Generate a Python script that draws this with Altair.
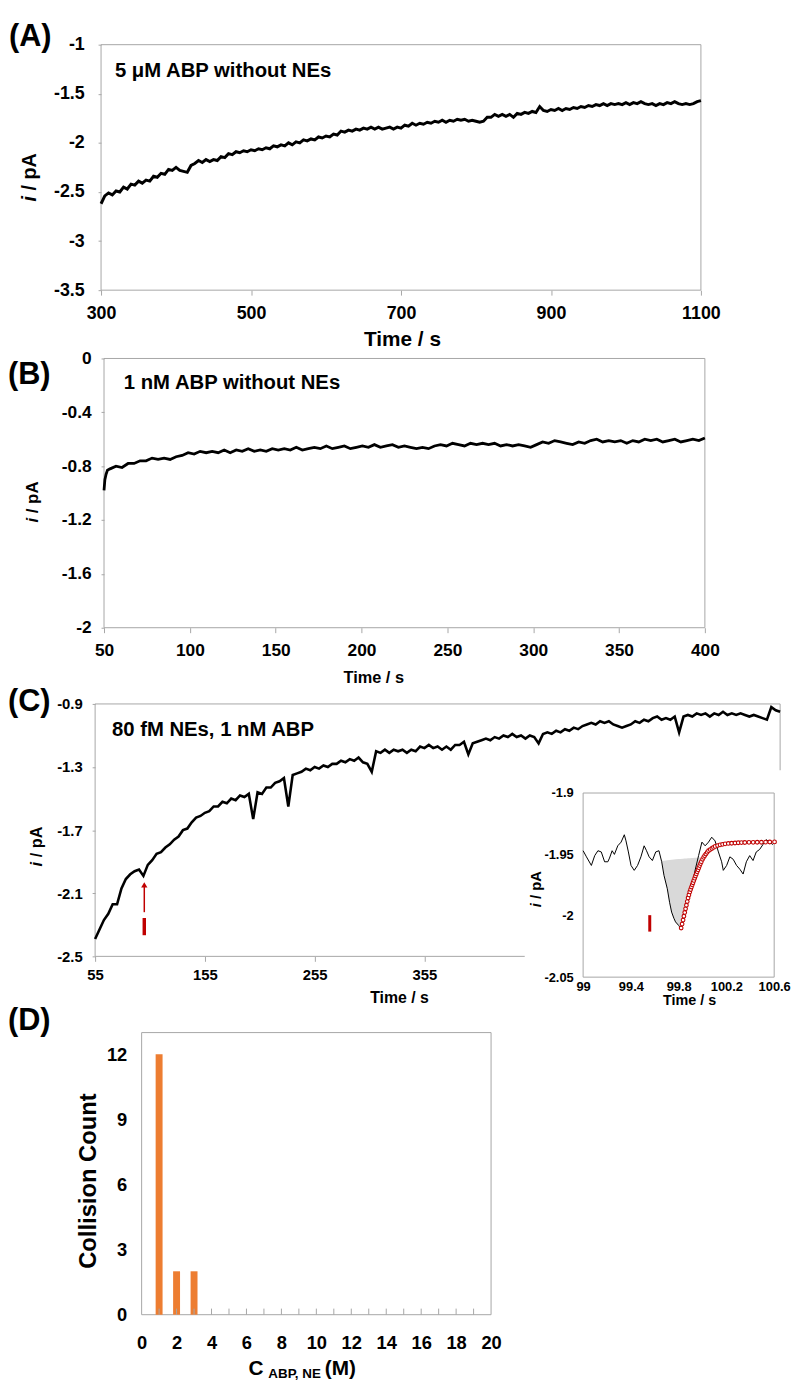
import altair as alt
import pandas as pd

FONT = "Liberation Sans"
FRAME = "#a6a6a6"
RED = "#C00000"
ORANGE = "#ED7D31"

# ---------------- Panel A: 5 uM ABP without NEs ----------------
A_START, A_STEP = 300, 5
A_CURRENT = [
    -2.62, -2.54, -2.51, -2.53, -2.49, -2.50, -2.45, -2.47, -2.42, -2.43, -2.39, -2.41, -2.38, -2.39, -2.34, -2.35, -2.31, -2.32, -2.27, -2.28,
    -2.25, -2.28, -2.29, -2.30, -2.23, -2.21, -2.18, -2.20, -2.17, -2.19, -2.17, -2.18, -2.14, -2.15, -2.11, -2.12, -2.09, -2.10, -2.08, -2.09,
    -2.07, -2.08, -2.06, -2.07, -2.05, -2.06, -2.03, -2.04, -2.02, -2.03, -2.00, -2.02, -1.99, -2.00, -1.97, -1.98, -1.96, -1.97, -1.94, -1.95,
    -1.93, -1.94, -1.91, -1.92, -1.88, -1.89, -1.87, -1.88, -1.86, -1.87, -1.85, -1.86, -1.84, -1.86, -1.84, -1.86, -1.85, -1.84, -1.86, -1.84,
    -1.85, -1.82, -1.83, -1.80, -1.82, -1.80, -1.81, -1.79, -1.80, -1.78, -1.79, -1.77, -1.79, -1.77, -1.78, -1.76, -1.77, -1.76, -1.78, -1.77,
    -1.78, -1.79, -1.78, -1.74, -1.74, -1.71, -1.73, -1.71, -1.73, -1.71, -1.74, -1.70, -1.71, -1.69, -1.70, -1.68, -1.69, -1.63, -1.67, -1.68,
    -1.66, -1.67, -1.65, -1.67, -1.65, -1.66, -1.64, -1.65, -1.63, -1.64, -1.62, -1.63, -1.61, -1.62, -1.60, -1.62, -1.60, -1.61, -1.60, -1.61,
    -1.59, -1.61, -1.59, -1.60, -1.58, -1.60, -1.61, -1.60, -1.62, -1.60, -1.61, -1.59, -1.60, -1.58, -1.60, -1.61, -1.60, -1.61, -1.60, -1.58,
    -1.57,
]
A_XDOM = [300, 1100]
A_YDOM = [-3.5, -1]
A_XTICKS = [300, 500, 700, 900, 1100]
A_YTICKS = [-3.5, -3, -2.5, -2, -1.5, -1]

# ---------------- Panel B: 1 nM ABP without NEs ----------------
B_HEAD_T = [50.0, 50.5, 51.2, 52.0]
B_HEAD_I = [-0.98, -0.90, -0.86, -0.83]
B_START, B_STEP = 53.5, 3.5
B_CURRENT = [
    -0.82, -0.80, -0.81, -0.78, -0.78, -0.76, -0.76, -0.74, -0.75, -0.74,
    -0.75, -0.73, -0.72, -0.70, -0.71, -0.69, -0.70, -0.69, -0.70, -0.68,
    -0.70, -0.68, -0.69, -0.67, -0.69, -0.68, -0.69, -0.67, -0.68, -0.67,
    -0.68, -0.66, -0.68, -0.67, -0.66, -0.67, -0.65, -0.67, -0.66, -0.65,
    -0.67, -0.66, -0.65, -0.66, -0.64, -0.66, -0.65, -0.64, -0.66, -0.65,
    -0.66, -0.67, -0.66, -0.67, -0.65, -0.64, -0.65, -0.63, -0.64, -0.65,
    -0.63, -0.64, -0.63, -0.64, -0.63, -0.65, -0.64, -0.65, -0.64, -0.65,
    -0.66, -0.64, -0.62, -0.63, -0.61, -0.62, -0.63, -0.64, -0.62, -0.63,
    -0.61, -0.60, -0.62, -0.61, -0.62, -0.61, -0.63, -0.61, -0.62, -0.60,
    -0.61, -0.60, -0.62, -0.61, -0.60, -0.62, -0.61, -0.60, -0.61, -0.59,
]
B_XDOM = [50, 400]
B_YDOM = [-2, 0]
B_XTICKS = [50, 100, 150, 200, 250, 300, 350, 400]
B_YTICKS = [-2, -1.6, -1.2, -0.8, -0.4, 0]

# ---------------- Panel C: 80 fM NEs, 1 nM ABP ----------------
C_START, C_STEP = 55, 4
C_CURRENT = [
    -2.39, -2.33, -2.27, -2.23, -2.17, -2.17, -2.07, -2.01, -1.98, -1.96,
    -1.95, -1.99, -1.92, -1.89, -1.85, -1.84, -1.81, -1.79, -1.76, -1.74,
    -1.70, -1.69, -1.65, -1.62, -1.61, -1.59, -1.58, -1.55, -1.55, -1.52,
    -1.53, -1.50, -1.51, -1.48, -1.49, -1.47, -1.63, -1.46, -1.47, -1.43,
    -1.43, -1.40, -1.39, -1.37, -1.55, -1.35, -1.34, -1.33, -1.31, -1.32,
    -1.30, -1.31, -1.29, -1.30, -1.28, -1.28, -1.26, -1.27, -1.25, -1.26,
    -1.24, -1.27, -1.28, -1.33, -1.20, -1.21, -1.19, -1.21, -1.19, -1.20,
    -1.19, -1.21, -1.19, -1.20, -1.17, -1.18, -1.16, -1.18, -1.17, -1.19,
    -1.17, -1.19, -1.16, -1.16, -1.14, -1.22, -1.15, -1.14, -1.13, -1.12,
    -1.13, -1.11, -1.12, -1.10, -1.11, -1.09, -1.11, -1.10, -1.12, -1.10,
    -1.11, -1.15, -1.09, -1.08, -1.09, -1.07, -1.08, -1.06, -1.07, -1.05,
    -1.06, -1.04, -1.03, -1.02, -1.03, -1.01, -1.02, -1.01, -1.03, -1.04,
    -1.05, -1.04, -1.03, -1.01, -1.02, -1.00, -1.01, -0.99, -0.98, -1.00,
    -0.99, -1.00, -0.98, -1.08, -0.98, -0.97, -0.98, -0.96, -0.97, -0.96,
    -0.98, -0.96, -0.97, -0.95, -0.97, -0.96, -0.97, -0.96, -0.97, -0.98,
    -0.97, -0.98, -0.99, -1.00, -0.92, -0.94, -0.95,
]
C_XDOM = [55, 679]
C_YDOM = [-2.5, -0.9]
C_XTICKS = [55, 155, 255, 355]
C_YTICKS = [-2.5, -2.1, -1.7, -1.3, -0.9]
ARROW_T = [99.8]
ARROW_HEAD_I = [-2.047]
ARROW_SHAFT_I = [-2.05, -2.22]
ARROW_DASH_I = [-2.257, -2.366]

# ---------------- Inset of C ----------------
INSET_T = [99.000, 99.028, 99.069, 99.097, 99.124, 99.152, 99.180, 99.207, 99.221, 99.243,
           99.262, 99.290, 99.318, 99.345, 99.359, 99.379, 99.401, 99.428, 99.456, 99.484,
           99.511, 99.531, 99.553, 99.580, 99.608, 99.635, 99.658, 99.677, 99.705, 99.724,
           99.741, 99.760, 99.774, 99.801, 99.815, 99.829, 99.857, 99.885, 99.912, 99.940,
           99.967, 99.995, 100.022, 100.050, 100.077, 100.105, 100.133, 100.160, 100.174, 100.202,
           100.229, 100.257, 100.285, 100.312, 100.340, 100.367, 100.395, 100.423, 100.450, 100.478,
           100.506, 100.533, 100.561, 100.589]
INSET_I = [-1.947, -1.952, -1.959, -1.951, -1.947, -1.948, -1.956, -1.956, -1.953, -1.947,
           -1.950, -1.943, -1.940, -1.934, -1.939, -1.948, -1.959, -1.963, -1.959, -1.952,
           -1.943, -1.947, -1.952, -1.955, -1.948, -1.947, -1.956, -1.967, -1.978, -1.989,
           -1.997, -2.002, -2.005, -2.008, -2.010, -2.0075, -1.997, -1.986, -1.975, -1.962,
           -1.951, -1.940, -1.943, -1.940, -1.936, -1.939, -1.948, -1.956, -1.963, -1.959,
           -1.952, -1.954, -1.959, -1.962, -1.966, -1.956, -1.951, -1.955, -1.948, -1.946,
           -1.942, -1.938, -1.940, -1.942]
FIT_T = [99.821, 99.829, 99.837, 99.844, 99.851, 99.858, 99.865, 99.872, 99.879, 99.886,
         99.893, 99.900, 99.907, 99.914, 99.920, 99.927, 99.934, 99.941, 99.948, 99.955,
         99.962, 99.969, 99.976, 99.983, 99.990, 100.000, 100.009, 100.018, 100.028, 100.039,
         100.050, 100.064, 100.078, 100.092, 100.106, 100.126, 100.147, 100.168, 100.189, 100.216,
         100.244, 100.272, 100.299, 100.326, 100.354, 100.389, 100.424, 100.458, 100.493, 100.528,
         100.563, 100.603]
FIT_I = [-2.0100, -2.0068, -2.0035, -2.0004, -1.9973, -1.9943, -1.9914, -1.9884, -1.9855, -1.9830,
         -1.9806, -1.9786, -1.9766, -1.9748, -1.9731, -1.9712, -1.9694, -1.9676, -1.9659, -1.9642,
         -1.9626, -1.9608, -1.9591, -1.9575, -1.9559, -1.9540, -1.9524, -1.9510, -1.9497, -1.9483,
         -1.9470, -1.9461, -1.9452, -1.9443, -1.9435, -1.9428, -1.9422, -1.9418, -1.9414, -1.9411,
         -1.9409, -1.9407, -1.9405, -1.9404, -1.9403, -1.9402, -1.9402, -1.9401, -1.9401, -1.9400,
         -1.9399, -1.9398]
SHADE_T = [99.660, 99.677, 99.705, 99.724, 99.741, 99.760, 99.774, 99.801, 99.815, 99.837,
           99.851, 99.865, 99.879, 99.893, 99.907, 99.920, 99.934, 99.948, 99.962, 99.976,
           99.990, 100.009]
SHADE_LO = [-1.9555, -1.967, -1.978, -1.989, -1.997, -2.002, -2.005, -2.008, -2.010, -2.0035,
            -1.9973, -1.9914, -1.9855, -1.9806, -1.9766, -1.9731, -1.9694, -1.9659, -1.9626, -1.9591,
            -1.9559, -1.9524]
SHADE_HI = [-1.9552, -1.9551, -1.9548, -1.9545, -1.9543, -1.9541, -1.9540, -1.9538, -1.9537, -1.9535,
            -1.9534, -1.9533, -1.9532, -1.9531, -1.9530, -1.9529, -1.9528, -1.9527, -1.9527, -1.9526,
            -1.9525, -1.9524]
MARK_T = [99.558]
MARK_I = [-1.9995, -2.0129]
INSET_XDOM = [99, 100.6]
INSET_YDOM = [-2.05, -1.9]
INSET_XTICKS = [99, 99.4, 99.8, 100.2, 100.6]
INSET_YTICKS = [-2.05, -2, -1.95, -1.9]

# ---------------- Panel D: collision count histogram ----------------
D_C = [1, 2, 3]
D_N = [12, 2, 2]
D_MINOR = list(range(1, 20))
D_XDOM = [0, 20]
D_YDOM = [0, 13]
D_XTICKS = list(range(0, 21, 2))
D_YTICKS = [0, 3, 6, 9, 12]

# ---------------- helpers ----------------
ONE = pd.DataFrame({"k": [0]})
EXPR = "toString(datum.value)"


def label(text, x, y, size, align="left", baseline="alphabetic", angle=0, style="normal", color="black"):
    kw = dict(text=text, fontSize=size, font=FONT, fontWeight="bold", fontStyle=style,
              align=align, baseline=baseline, color=color)
    if angle:
        kw["angle"] = angle
    return alt.Chart(ONE).mark_text(**kw).encode(x=alt.value(x), y=alt.value(y))


def ytitle(xc, yc, size):
    total = 2.445 * size
    yb = yc + total / 2
    return [label("i", xc, yb, size, angle=270, baseline="middle", style="italic"),
            label("/ pA", xc, yb - 0.556 * size, size, angle=270, baseline="middle")]


def bound(x, y1, y2):
    return alt.Chart(ONE).mark_rule(strokeOpacity=0, strokeWidth=1).encode(
        x=alt.value(x), x2=alt.value(x), y=alt.value(y1), y2=alt.value(y2))


def axis(values, size, tick, pad, title=None, tsize=None, tx=None, ty=None, **extra):
    kw = dict(values=values, labelExpr=EXPR, labelFontSize=size, labelPadding=pad)
    if tick:
        kw.update(ticks=True, tickSize=tick)
    else:
        kw.update(ticks=False)
    if title:
        kw.update(title=title, titleFontSize=tsize, titleX=tx, titleY=ty,
                  titleBaseline="alphabetic", titleAlign="center", titleAngle=0)
    else:
        kw.update(title=None)
    kw.update(extra)
    return alt.Axis(**kw)


def frame_rect(xdom, ydom, X, Y, fill=None):
    df = pd.DataFrame({"x0": [xdom[0]], "x1": [xdom[1]], "y0": [ydom[0]], "y1": [ydom[1]]})
    kw = dict(stroke=FRAME, strokeWidth=1)
    if fill:
        kw["fill"] = fill
    else:
        kw["fillOpacity"] = 0
    return alt.Chart(df).mark_rect(**kw).encode(x=X("x0"), x2="x1", y=Y("y0"), y2="y1")


def make_xy(xdom, ydom, xrange, yrange, xaxis, yaxis):
    sx = alt.Scale(domain=xdom, range=xrange, nice=False, zero=False, padding=0)
    sy = alt.Scale(domain=ydom, range=yrange, nice=False, zero=False, padding=0)

    def X(f):
        return alt.X(f, type="quantitative", scale=sx, axis=xaxis)

    def Y(f):
        return alt.Y(f, type="quantitative", scale=sy, axis=yaxis)
    return X, Y


# All panels share the same view origin (x = 96 px on the page); each plot area
# is placed inside its view through the scale range.

# ---------------- Panel A ----------------
AX, AY = make_xy(A_XDOM, A_YDOM, [6, 612], [248, 0],
                 axis(A_XTICKS, 18, 5, 10, "Time / s", 21, 310, 56),
                 axis(A_YTICKS, 18, 3, 14, offset=-6))
dfA = pd.DataFrame({"t": [A_START + A_STEP * k for k in range(len(A_CURRENT))], "i": A_CURRENT})
panelA = alt.layer(
    frame_rect(A_XDOM, A_YDOM, AX, AY),
    alt.Chart(dfA).mark_line(color="black", strokeWidth=3).encode(x=AX("t"), y=AY("i")),
    label("5 μM ABP without NEs", 20, 33, 20.5),
    label("(A)", -87, 1, 31),
    *ytitle(-66, 134, 20),
    bound(-88, -30, 317),
).properties(width=612, height=248)

# ---------------- Panel B ----------------
BX, BY = make_xy(B_XDOM, B_YDOM, [9, 616], [272, 0],
                 axis(B_XTICKS, 17.5, 5, 9, "Time / s", 16.5, 281, 55),
                 axis(B_YTICKS, 17.5, 3, 10, offset=-9))
dfB = pd.DataFrame({
    "t": B_HEAD_T + [B_START + B_STEP * k for k in range(len(B_CURRENT))],
    "i": B_HEAD_I + B_CURRENT,
})
panelB = alt.layer(
    frame_rect(B_XDOM, B_YDOM, BX, BY),
    alt.Chart(dfB).mark_line(color="black", strokeWidth=2.8).encode(x=BX("t"), y=BY("i")),
    label("1 nM ABP without NEs", 29, 31, 20.5),
    label("(B)", -88, 26, 31),
    *ytitle(-63, 145, 17),
    bound(-88, -19, 346),
).properties(width=616, height=272)

# ---------------- Panel C (main) ----------------
CX, CY = make_xy(C_XDOM, C_YDOM, [0, 692], [255, 0],
                 axis(C_XTICKS, 15, 5, 6, "Time / s", 16, 307, 47),
                 axis(C_YTICKS, 15, 3, 10))
dfC = pd.DataFrame({"t": [C_START + C_STEP * k for k in range(len(C_CURRENT))], "i": C_CURRENT})
df_shaft = pd.DataFrame({"t": ARROW_T, "a": [ARROW_SHAFT_I[0]], "b": [ARROW_SHAFT_I[1]]})
df_dash = pd.DataFrame({"t": ARROW_T, "a": [ARROW_DASH_I[0]], "b": [ARROW_DASH_I[1]]})
df_head = pd.DataFrame({"t": ARROW_T, "i": ARROW_HEAD_I})
c_main = alt.layer(
    frame_rect(C_XDOM, C_YDOM, CX, CY),
    alt.Chart(dfC).mark_line(color="black", strokeWidth=2.6).encode(x=CX("t"), y=CY("i")),
    alt.Chart(df_shaft).mark_rule(color=RED, strokeWidth=1.5).encode(x=CX("t"), y=CY("a"), y2="b"),
    alt.Chart(df_dash).mark_rule(color=RED, strokeWidth=3.5).encode(x=CX("t"), y=CY("a"), y2="b"),
    alt.Chart(df_head).mark_point(shape="triangle-up", filled=True, color=RED, size=40, opacity=1).encode(
        x=CX("t"), y=CY("i")),
    label("80 fM NEs, 1 nM ABP", 17, 32, 20.5),
    label("(C)", -88, 7, 31),
    *ytitle(-59, 144, 16.5),
    bound(-88, -23, 319),
)

# ---------------- Inset ----------------
IX, IY = make_xy(INSET_XDOM, INSET_YDOM, [493, 686], [276, 90],
                 axis(INSET_XTICKS, 13, 0, 3, "Time / s", 14.5, 600, 28, orient="bottom", offset=21, zindex=1),
                 axis(INSET_YTICKS, 13, 0, 10, orient="left", offset=-493, zindex=1))
white = alt.Chart(ONE).mark_rect(color="white").encode(
    x=alt.value(434), x2=alt.value(694), y=alt.value(67), y2=alt.value(307))
df_shade = pd.DataFrame({"t": SHADE_T, "lo": SHADE_LO, "hi": SHADE_HI})
df_it = pd.DataFrame({"t": INSET_T, "i": INSET_I})
df_fit = pd.DataFrame({"t": FIT_T, "i": FIT_I})
df_mark = pd.DataFrame({"t": MARK_T, "a": [MARK_I[0]], "b": [MARK_I[1]]})
c_inset = alt.layer(
    white,
    frame_rect(INSET_XDOM, INSET_YDOM, IX, IY, fill="white"),
    alt.Chart(df_shade).mark_area(color="#d9d9d9", opacity=1).encode(x=IX("t"), y=IY("lo"), y2="hi"),
    alt.Chart(df_it).mark_line(color="black", strokeWidth=1).encode(x=IX("t"), y=IY("i")),
    alt.Chart(df_fit).mark_point(shape="circle", size=14, filled=True, fill="white",
                                 stroke=RED, strokeWidth=1.1, opacity=1).encode(x=IX("t"), y=IY("i")),
    alt.Chart(df_mark).mark_rule(color=RED, strokeWidth=3).encode(x=IX("t"), y=IY("a"), y2="b"),
    *ytitle(445, 187, 15),
)

panelC = alt.layer(c_main, c_inset).resolve_scale(x="independent", y="independent").properties(
    width=692, height=255)

# ---------------- Panel D ----------------
DX, DY = make_xy(D_XDOM, D_YDOM, [47, 400], [285, 0],
                 axis(D_XTICKS, 18.5, 0, 19),
                 axis(D_YTICKS, 18.5, 0, 15, offset=-47))
dfD = pd.DataFrame({"c": D_C, "n": D_N})
df_minor = pd.DataFrame({"c": D_MINOR, "y0": [0] * len(D_MINOR), "y1": [0.28] * len(D_MINOR)})
panelD = alt.layer(
    frame_rect(D_XDOM, D_YDOM, DX, DY),
    alt.Chart(dfD).mark_bar(color=ORANGE, size=7).encode(x=DX("c"), y=DY("n")),
    alt.Chart(df_minor).mark_rule(color=FRAME, strokeWidth=1).encode(x=DX("c"), y=DY("y0"), y2="y1"),
    label("(D)", -88, -3, 31),
    label("Collision Count", -6, 150, 24, align="center", baseline="middle", angle=270),
    label("C", 155, 346, 21),
    label("ABP, NE", 175, 349, 13.5),
    label("(M)", 232, 346, 21),
    bound(-88, -33, 351),
).properties(width=400, height=285)

chart = alt.vconcat(panelA, panelB, panelC, panelD, spacing=-20).properties(
    padding=0
).configure_view(
    strokeWidth=0
).configure_axis(
    labelFont=FONT, labelFontWeight="bold", labelColor="black",
    titleFont=FONT, titleFontWeight="bold", titleColor="black",
    grid=False, domain=False, tickColor=FRAME, tickWidth=1,
    labelFlush=False, labelOverlap=False,
)

chart.save("out.html", embed_options={"renderer": "svg", "actions": False})
